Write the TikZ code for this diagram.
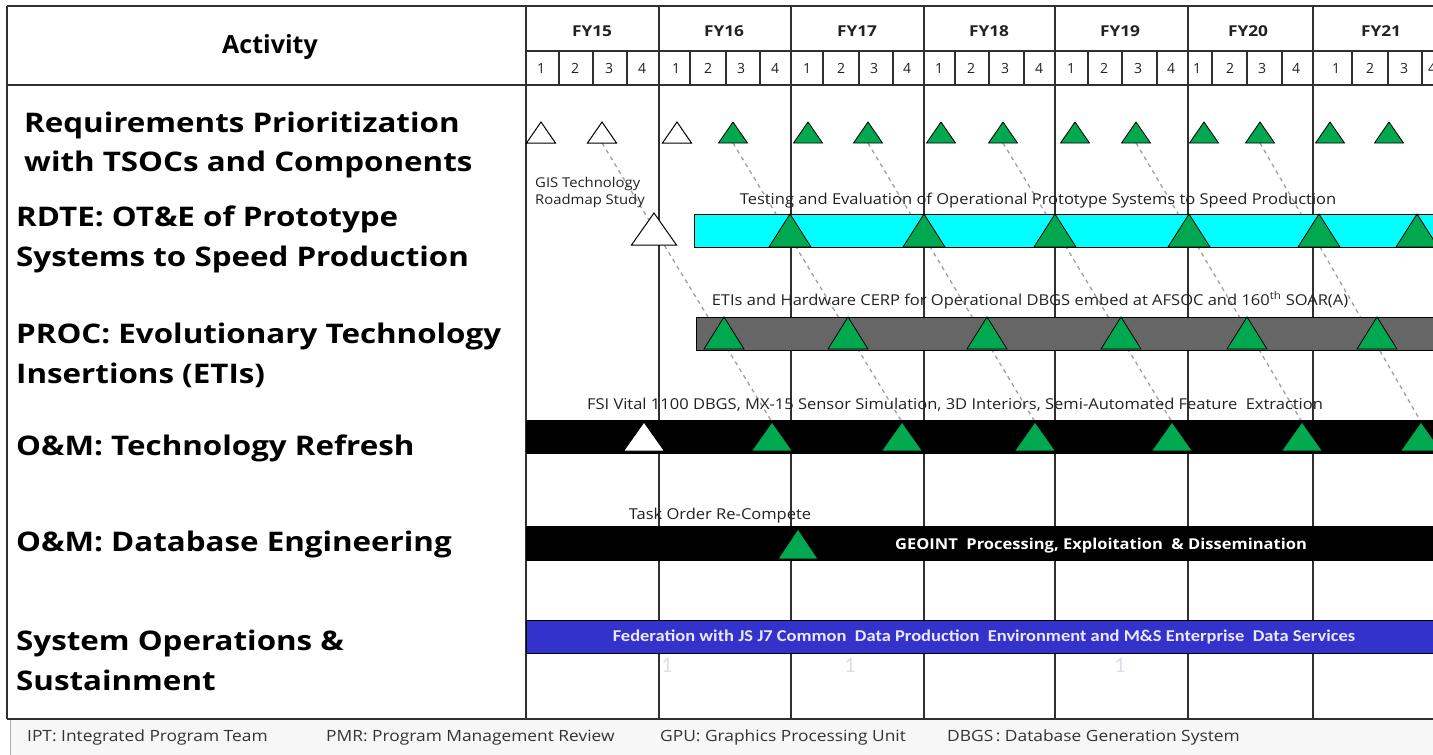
\documentclass[tikz,border=0pt]{standalone}
\usepackage{fontspec}
\setmainfont{Open Sans}
\newfontfamily\carl[FakeStretch=1.12]{Carlito}
\newfontfamily\carlplain{Carlito}
\newfontfamily\lblf[FakeStretch=1.16]{Open Sans}
\newfontfamily\smf[FakeStretch=1.1]{Open Sans}
\newfontfamily\ftf[FakeStretch=1.12]{Open Sans}
\newfontfamily\fyf[FakeStretch=1.15]{Open Sans}
\definecolor{msgreen}{HTML}{00A84F}
\definecolor{barcyan}{HTML}{00FFFF}
\definecolor{bargray}{HTML}{666666}
\definecolor{barblue}{HTML}{3333CC}
\definecolor{dashgray}{HTML}{A0A0A0}
\definecolor{footfill}{HTML}{F7F7F7}
\definecolor{footline}{HTML}{B0B0B0}
\definecolor{foottxt}{HTML}{333333}
\definecolor{bluetext}{HTML}{E8E8FF}
\definecolor{ghost}{HTML}{DDDDEE}
\definecolor{gridc}{HTML}{303030}
\definecolor{txt}{HTML}{222222}
\pgfdeclarelayer{bgl}
\pgfdeclarelayer{gridl}
\pgfdeclarelayer{linkl}
\pgfsetlayers{bgl,gridl,linkl,main}
% milestone: name, cx, apex y, half width, height, style
\newcommand\mst[6]{%
  \path[#6] ({#2-#4},{#3+#5}) -- (#2,#3) -- ({#2+#4},{#3+#5}) -- cycle;
  \coordinate (#1) at (#2,#3);
  \coordinate (#1b) at (#2,{#3+#5});}
\begin{document}
\begin{tikzpicture}[x=1pt,y=-1pt,
  gridline/.style={line width=1.2pt, draw=gridc},
  lbl/.style={anchor=base west, inner sep=0pt, font=\lblf\fontsize{27}{30}\selectfont\bfseries, text=black},
  small/.style={anchor=base, inner sep=0pt, font=\smf\fontsize{15}{18}\selectfont, text=txt},
  fy/.style={anchor=base, inner sep=0pt, font=\fyf\fontsize{15}{16}\selectfont\bfseries, text=txt},
  qn/.style={anchor=base, inner sep=0pt, font=\fontsize{14}{16}\selectfont, text=txt},
  bar/.style={draw=black, line width=1pt},
  msw/.style={fill=white, draw=black, line width=1pt},
  msg/.style={fill=msgreen, draw=black, line width=0.8pt},
  link/.style={draw=dashgray, line width=1.3pt, dash pattern=on 4pt off 4pt},
  foot/.style={anchor=base west, inner sep=0pt, font=\ftf\fontsize{15.5}{17}\selectfont, text=foottxt}]
\useasboundingbox (0,0) rectangle (1433,755);
\clip (0,0) rectangle (1433,755);
\begin{pgfonlayer}{bgl}
\fill[white] (0,0) rectangle (1433,755);
\end{pgfonlayer}

% ---------- grid ----------
\begin{pgfonlayer}{gridl}
\draw[gridline] (7,6) -- (1440,6);
\draw[gridline] (7,6) -- (7,719);
\draw[gridline] (7,85) -- (1440,85);
\draw[gridline] (526,51) -- (1440,51);
\foreach \x in {526,659,791,924,1055,1188,1313}
  \draw[gridline] (\x,6) -- (\x,719);
\foreach \x in {559,593,627,690,726,760,823,859,893,955,989,1024,1088,1122,1157,1212,1247,1282,1352,1388,1422}
  \draw[gridline] (\x,51) -- (\x,85);
\end{pgfonlayer}

% ---------- header ----------
\node[anchor=base, inner sep=0pt, font=\fontsize{25}{28}\selectfont\bfseries] (act) at (270,53) {Activity};
\foreach \x/\t in {592/FY15,724/FY16,857/FY17,989/FY18,1120/FY19,1248/FY20,1381/FY21}
  \node[fy] (h\t) at (\x,36) {\t};
\foreach \x/\q [count=\i] in {541/1,575/2,609/3,642/4,676/1,708/2,741/3,775/4,807/1,841/2,874/3,907/4,939/1,971/2,1005/3,1039/4,1071/1,1104/2,1138/3,1171/4,1197/1,1230/2,1262/3,1296/4,1336/1,1370/2,1404/3,1432/4}
  \node[qn] (q\i) at (\x,73) {\q};

% ---------- row labels ----------
\node[lbl] (l1a) at (24,132) {Requirements Prioritization};
\node[lbl] (l1b) at (24,171) {with TSOCs and Components};
\node[lbl] (l2a) at (16,226) {RDTE: OT\&E of Prototype};
\node[lbl] (l2b) at (16,266) {Systems to Speed Production};
\node[lbl] (l3a) at (16,343) {PROC: Evolutionary Technology};
\node[lbl] (l3b) at (16,383) {Insertions (ETIs)};
\node[lbl] (l4) at (16,455) {O\&M: Technology Refresh};
\node[lbl] (l5) at (16,551) {O\&M: Database Engineering};
\node[lbl] (l6a) at (16,650) {System Operations \&};
\node[lbl] (l6b) at (16,690) {Sustainment};

% ---------- row 1 milestones ----------
\mst{ra}{541}{122}{14.5}{21}{msw}
\mst{rb}{602}{122}{14.5}{21}{msw}
\mst{rc}{677}{122}{14.5}{21}{msw}
\mst{rd}{733}{122}{14.5}{21}{msg}
\mst{re}{808}{122}{14.5}{21}{msg}
\mst{rf}{868}{122}{14.5}{21}{msg}
\mst{rg}{941}{122}{14.5}{21}{msg}
\mst{rh}{1003}{122}{14.5}{21}{msg}
\mst{ri}{1075}{122}{14.5}{21}{msg}
\mst{rj}{1136}{122}{14.5}{21}{msg}
\mst{rk}{1204}{122}{14.5}{21}{msg}
\mst{rl}{1260}{122}{14.5}{21}{msg}
\mst{rm}{1330}{122}{14.5}{21}{msg}
\mst{rn}{1389}{122}{14.5}{21}{msg}

% ---------- RDTE ----------
\node[anchor=base west, inner sep=0pt, font=\smf\fontsize{13.5}{14}\selectfont, text=txt] (gis1) at (535,187) {GIS Technology};
\node[anchor=base west, inner sep=0pt, font=\smf\fontsize{13.5}{14}\selectfont, text=txt] (gis2) at (535,204) {Roadmap Study};
\node[small] (rdtetxt) at (1038,204) {Testing and Evaluation of Operational Prototype Systems to Speed Production};
\path[bar, fill=barcyan] (694,214) rectangle (1445,247);
\mst{sw}{654}{213}{22.5}{32}{msw}
\foreach \x [count=\i] in {790,924,1055,1189,1319,1417}
  {\mst{s\i}{\x}{214}{21}{33}{msg}}

% ---------- PROC ----------
\node[small] (proctxt) at (1030,305) {ETIs and Hardware CERP for Operational DBGS embed at AFSOC and 160\textsuperscript{th} SOAR(A)};
\path[bar, fill=bargray] (696,317) rectangle (1445,350);
\foreach \x [count=\i] in {724,848,987,1121,1247,1377}
  {\mst{p\i}{\x}{317}{20}{32}{msg}}

% ---------- O&M tech refresh ----------
\node[small] (trtxt) at (955,409) {FSI Vital 1100 DBGS, MX-15 Sensor Simulation, 3D Interiors, Semi-Automated Feature\ \ Extraction};
\path[bar, fill=black] (526,420) rectangle (1445,453);
\mst{tw}{644}{422}{20.5}{29}{msw}
\foreach \x [count=\i] in {772,902,1035,1172,1302,1421}
  {\mst{t\i}{\x}{422}{20.5}{29}{msg}}

% ---------- O&M DB ----------
\node[small] (dbtxt) at (720,519) {Task Order Re-Compete};
\path[bar, fill=black] (526,526) rectangle (1445,560);
\mst{d1}{798}{529}{20}{30}{msg}
\node[anchor=base, inner sep=0pt, font=\smf\fontsize{15}{18}\selectfont\bfseries, text=white] (geoint) at (1101,549) {GEOINT\ \ Processing,\ Exploitation\ \ \&\ Dissemination};

% ---------- System ops ----------
\path[bar, fill=barblue] (526,620) rectangle (1445,653);
\node[anchor=base, inner sep=0pt, font=\carl\fontsize{16.5}{18}\selectfont\bfseries, text=bluetext] (fedtxt) at (984,641) {Federation with JS J7 Common\ \ Data Production\ \ Environment and M\&S Enterprise\ \ Data Services};
\foreach \x [count=\i] in {667,850,1120}
  \node[anchor=base, inner sep=0pt, font=\carlplain\fontsize{22}{24}\selectfont, text=ghost] (g\i) at (\x,672) {1};

% ---------- footer ----------
\path[fill=footfill, draw=footline, line width=1pt] (10,719) rectangle (1445,760);
\draw[gridline] (7,719) -- (1440,719);
\node[foot] (f1) at (27,741) {IPT: Integrated Program Team};
\node[foot] (f2) at (326,741) {PMR: Program Management Review};
\node[foot] (f3) at (660,741) {GPU: Graphics Processing Unit};
\node[foot] (f4) at (947,741) {DBGS\,:\ Database Generation System};

% ---------- dashed links ----------
\begin{pgfonlayer}{linkl}
\draw[link] (rbb) -- (t1);
\draw[link] (rdb) -- (t2);
\draw[link] (rfb) -- (t3);
\draw[link] (rhb) -- (t4);
\draw[link] (rjb) -- (t5);
\draw[link] (rlb) -- (t6);
\end{pgfonlayer}
\end{tikzpicture}
\end{document}
